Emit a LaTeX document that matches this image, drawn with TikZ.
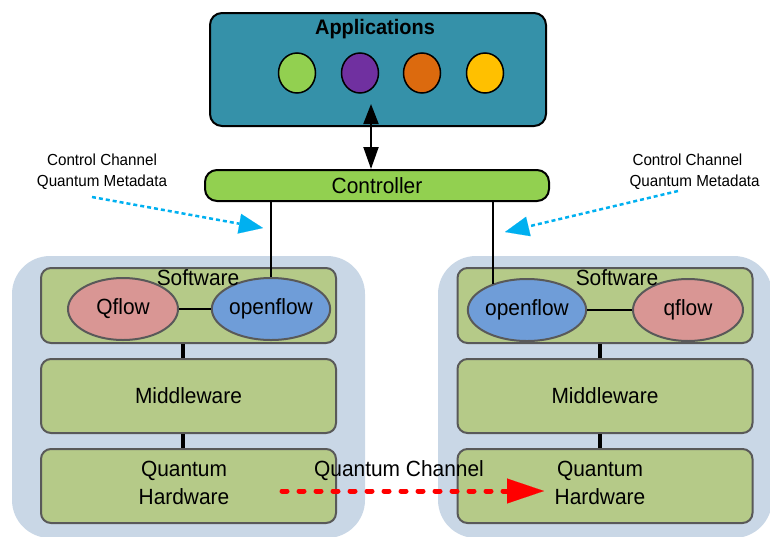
\documentclass[tikz,border=0pt]{standalone}
\usepackage{fontspec}
\setmainfont[FakeStretch=0.95]{Liberation Sans}
\usetikzlibrary{shapes.geometric,arrows.meta}
\definecolor{appteal}{HTML}{3591A9}
\definecolor{cgreen}{HTML}{92D050}
\definecolor{cpurple}{HTML}{7030A0}
\definecolor{corange}{HTML}{DC6A0E}
\definecolor{cyellow}{HTML}{FFC000}
\definecolor{contblue}{HTML}{C9D7E6}
\definecolor{boxgreen}{HTML}{B5CA88}
\definecolor{boxgray}{HTML}{595959}
\definecolor{pinkE}{HTML}{D99694}
\definecolor{blueE}{HTML}{6F9DD8}
\definecolor{cyanA}{HTML}{00B0F0}
\begin{document}
\begin{tikzpicture}[x=1pt,y=-1pt,
  big/.style={font=\fontsize{22}{28}\selectfont},
  small/.style={font=\fontsize{16}{21}\selectfont},
  layerbox/.style={draw=boxgray, line width=2pt, fill=boxgreen, rounded corners=10pt,
    minimum width=295pt, minimum height=74pt, inner sep=0pt, big, align=center},
  ell/.style={ellipse, draw=boxgray, line width=2pt, minimum width=110pt,
    minimum height=62pt, inner sep=0pt, big},
  appdot/.style={ellipse, draw=black, line width=1.5pt, minimum width=37pt,
    minimum height=40pt, inner sep=0pt},
  container/.style={fill=contblue, rounded corners=38pt},
  layerlink/.style={line width=4pt},
  plainlink/.style={line width=1.5pt},
  ctrlarrow/.style={cyanA, line width=2.5pt, dash pattern=on 4pt off 3pt,
    -{Triangle[length=24pt,width=20pt,line width=0.1pt]}},
  qarrow/.style={red, line width=5pt, dash pattern=on 5pt off 12pt, line cap=round,
    -{Triangle[length=37pt,width=25pt,line width=0.1pt]}}
]
\useasboundingbox (0,0) rectangle (770,536);

% containers
\fill[container] (12,256) rectangle (365,538);
\fill[container] (438,256) rectangle (772,538);

% applications
\node[draw=black, line width=2pt, fill=appteal, rounded corners=12pt,
  minimum width=336pt, minimum height=113pt, inner sep=0pt] (apps) at (378,69.5) {};
\node[font=\fontsize{21}{24}\selectfont\bfseries] (appstitle) at (375,29) {Applications};
\node[appdot, fill=cgreen] (d1) at (297,73) {};
\node[appdot, fill=cpurple] (d2) at (360,73) {};
\node[appdot, fill=corange] (d3) at (422,73) {};
\node[appdot, fill=cyellow] (d4) at (485,73) {};

% controller
\node[draw=black, line width=2pt, fill=cgreen, rounded corners=12pt,
  minimum width=344pt, minimum height=31pt, inner sep=0pt, big] (ctrl) at (377,185.5) {Controller};

\coordinate (apptip) at (371,104);
\draw[line width=2pt, {Triangle[length=20pt,width=15pt]}-{Triangle[length=22pt,width=15pt]}]
  (apptip) -- (ctrl.north -| apptip);

% left stack
\node[layerbox, minimum height=75pt] (swL) at (188.5,305.5) {};
\node[layerbox] (mwL) at (188.5,396) {Middleware};
\node[layerbox] (qhL) at (188.5,486) {};
\node[big, align=center] (qhLt) at (184,483) {Quantum\\Hardware};
\node[ell, fill=pinkE] (qflowL) at (123,309) {Qflow};
\node[ell, fill=blueE] (openL) at (271,309) {\raisebox{4pt}{openflow}};
\node[big] (swLt) at (198,278) {Software};
\draw[plainlink] (qflowL) -- (openL);
\draw[plainlink] (ctrl.south -| openL.north) -- (openL.north);
\draw[layerlink] ([xshift=-5.5pt]swL.south) -- ([xshift=-5.5pt]mwL.north);
\draw[layerlink] ([xshift=-5.5pt]mwL.south) -- ([xshift=-5.5pt]qhL.north);

% right stack
\node[layerbox, minimum height=75pt] (swR) at (605,305.5) {};
\node[layerbox] (mwR) at (605,396) {Middleware};
\node[layerbox] (qhR) at (605,486) {};
\node[big, align=center] (qhRt) at (600,483) {Quantum\\Hardware};
\node[ell, fill=blueE] (openR) at (527,310) {openflow};
\node[ell, fill=pinkE] (qflowR) at (688,310) {qflow};
\node[big] (swRt) at (617,278) {Software};
\draw[plainlink] (openR) -- (qflowR);
\draw[plainlink] (openR.142 |- ctrl.south) -- (openR.142);
\draw[layerlink] ([xshift=-5.5pt]swR.south) -- ([xshift=-5.5pt]mwR.north);
\draw[layerlink] ([xshift=-5.5pt]mwR.south) -- ([xshift=-5.5pt]qhR.north);

% control channel annotations
\node[small, align=center] (ccL) at (102,171.5) {Control Channel\\Quantum Metadata};
\node[small, align=left, anchor=west] (ccR) at (626,171.5) {\hspace*{3pt}Control Channel\\Quantum Metadata};
\coordinate (ccLs) at (92,197);
\coordinate (ccLe) at (263,228);
\coordinate (ccRs) at (678,191);
\coordinate (ccRe) at (505,232);
\draw[ctrlarrow] (ccLs) -- (ccLe);
\draw[ctrlarrow] (ccRs) -- (ccRe);

% quantum channel
\coordinate (qcs) at (282,491);
\coordinate (qce) at (544,491);
\draw[qarrow] (qcs) -- (qce);
\node[big] (qclabel) at (399,471) {Quantum Channel};
\end{tikzpicture}
\end{document}
